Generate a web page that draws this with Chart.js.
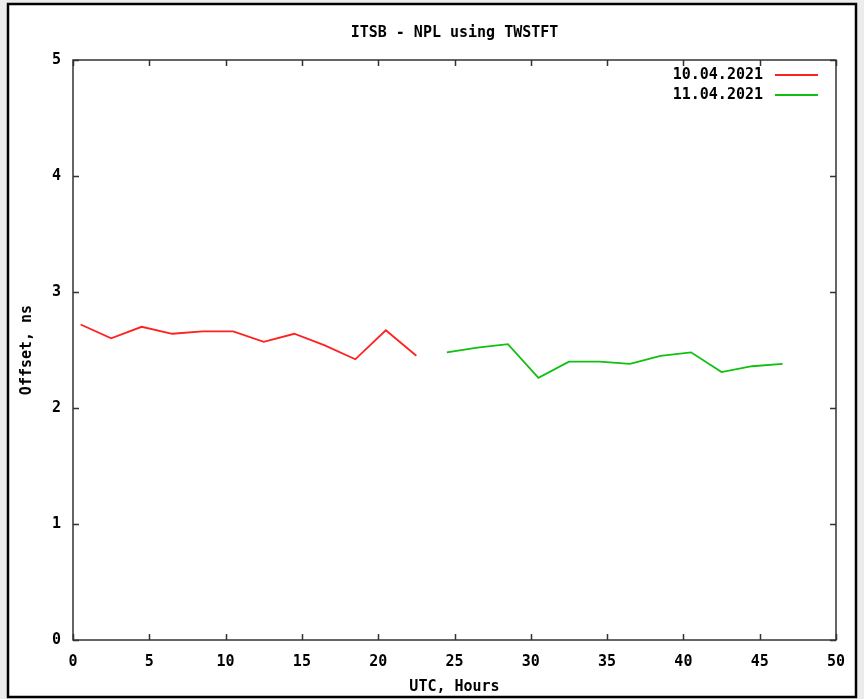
<!DOCTYPE html>
<html lang="en">

<head>
    <meta charset="UTF-8">
    <script src="https://cdn.jsdelivr.net/npm/chart.js"></script>
    <title>ITSB - NPL using TWSTFT</title>
    <style>
        body { margin: 0; background: #ececec; }
    </style>
</head>

<body>
    <canvas id="chart" width="864" height="699"></canvas>
    <script>
        // hours (UTC) and offsets (ns)
        const day1Label = '10.04.2021'
        const day1Hours = [0.5, 2.5, 4.5, 6.5, 8.5, 10.5, 12.5, 14.5, 16.5, 18.5, 20.5, 22.5]
        const day1Offset = [2.72, 2.60, 2.70, 2.64, 2.66, 2.66, 2.57, 2.64, 2.54, 2.42, 2.67, 2.45]

        const day2Label = '11.04.2021'
        const day2Hours = [24.5, 26.5, 28.5, 30.5, 32.5, 34.5, 36.5, 38.5, 40.5, 42.5, 44.5, 46.5]
        const day2Offset = [2.48, 2.52, 2.55, 2.26, 2.40, 2.40, 2.38, 2.45, 2.48, 2.31, 2.36, 2.38]

        const FONT = 'DejaVu Sans Mono'

        const toPoints = (xs, ys) => xs.map((x, i) => ({ x, y: ys[i] }))

        const frame = {
            id: 'frame',
            beforeDraw: (chart) => {
                const ctx = chart.ctx
                ctx.save()
                ctx.fillStyle = '#ececec'
                ctx.fillRect(0, 0, chart.width, chart.height)
                ctx.fillStyle = '#ffffff'
                ctx.fillRect(8, 4, 848, 693)
                ctx.strokeStyle = '#000'
                ctx.lineWidth = 2.5
                ctx.strokeRect(8, 4, 848, 693)
                ctx.restore()
            },
            afterDraw: (chart) => {
                const ctx = chart.ctx
                const a = chart.chartArea
                ctx.save()
                ctx.strokeStyle = '#333'
                ctx.lineWidth = 1.5
                ctx.strokeRect(a.left, a.top, a.right - a.left, a.bottom - a.top)
                // inward ticks on all four sides
                ctx.beginPath()
                const xs = chart.scales.x
                xs.ticks.forEach(t => {
                    const px = Math.round(xs.getPixelForValue(t.value)) + 0.5
                    ctx.moveTo(px, a.bottom); ctx.lineTo(px, a.bottom - 6)
                    ctx.moveTo(px, a.top); ctx.lineTo(px, a.top + 6)
                })
                const ys = chart.scales.y
                ys.ticks.forEach(t => {
                    const py = Math.round(ys.getPixelForValue(t.value)) + 0.5
                    ctx.moveTo(a.left, py); ctx.lineTo(a.left + 6, py)
                    ctx.moveTo(a.right, py); ctx.lineTo(a.right - 6, py)
                })
                ctx.stroke()

                // gnuplot style key, top right
                ctx.font = 'bold 15px ' + FONT
                ctx.textAlign = 'right'
                ctx.textBaseline = 'middle'
                chart.data.datasets.forEach((ds, i) => {
                    const y = a.top + 15 + i * 20
                    ctx.fillStyle = '#000'
                    ctx.fillText(ds.label, a.right - 73, y)
                    ctx.strokeStyle = ds.borderColor
                    ctx.lineWidth = 1.8
                    ctx.beginPath()
                    ctx.moveTo(a.right - 61, y)
                    ctx.lineTo(a.right - 18, y)
                    ctx.stroke()
                })
                ctx.restore()
            }
        }

        new Chart(document.getElementById('chart'), {
            type: 'line',
            data: {
                datasets: [
                    {
                        label: day1Label,
                        data: toPoints(day1Hours, day1Offset),
                        borderColor: '#ff2020',
                        borderWidth: 1.8,
                        pointRadius: 0,
                        tension: 0
                    },
                    {
                        label: day2Label,
                        data: toPoints(day2Hours, day2Offset),
                        borderColor: '#10c010',
                        borderWidth: 1.8,
                        pointRadius: 0,
                        tension: 0
                    }
                ]
            },
            options: {
                responsive: false,
                animation: false,
                layout: { padding: { left: 10, right: 28, top: 0, bottom: 0 } },
                plugins: {
                    legend: { display: false },
                    tooltip: { enabled: false },
                    title: {
                        display: true,
                        fullSize: false,
                        text: 'ITSB - NPL using TWSTFT',
                        color: '#000',
                        font: { family: FONT, size: 15, weight: 'bold', lineHeight: 1.2 },
                        padding: { top: 24, bottom: 18 }
                    }
                },
                scales: {
                    x: {
                        type: 'linear',
                        min: 0,
                        max: 50,
                        ticks: {
                            stepSize: 5,
                            color: '#000',
                            padding: 13,
                            maxRotation: 0,
                            font: { family: FONT, size: 15, weight: 'bold' }
                        },
                        grid: { display: false, drawTicks: false },
                        border: { display: false },
                        title: {
                            display: true,
                            text: 'UTC, Hours',
                            color: '#000',
                            font: { family: FONT, size: 15, weight: 'bold', lineHeight: 1.2 },
                            padding: { top: 0, bottom: 3 }
                        },
                        afterFit: (scale) => { scale.height = 59 }
                    },
                    y: {
                        min: 0,
                        max: 5,
                        ticks: {
                            stepSize: 1,
                            color: '#000',
                            padding: 12,
                            font: { family: FONT, size: 15, weight: 'bold' }
                        },
                        grid: { display: false, drawTicks: false },
                        border: { display: false },
                        title: {
                            display: true,
                            text: 'Offset, ns',
                            color: '#000',
                            font: { family: FONT, size: 15, weight: 'bold', lineHeight: 1.2 },
                            padding: { top: 8, bottom: 0 }
                        },
                        afterFit: (scale) => { scale.width = 63 }
                    }
                }
            },
            plugins: [frame]
        })
    </script>
</body>

</html>
